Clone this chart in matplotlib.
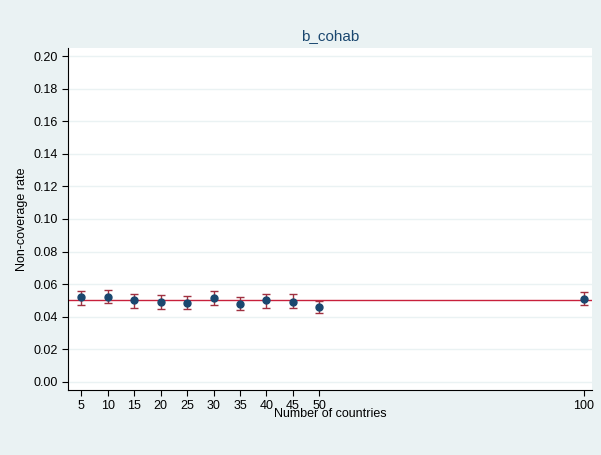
import matplotlib.pyplot as plt

plt.rcParams['font.family'] = ['Liberation Sans', 'DejaVu Sans']

countries = [5, 10, 15, 20, 25, 30, 35, 40, 45, 50, 100]
rate = [0.0518, 0.0522, 0.0500, 0.0490, 0.0487, 0.0513, 0.0480, 0.0500, 0.0493, 0.0460, 0.0510]
lower = [0.0475, 0.0485, 0.0455, 0.0445, 0.0450, 0.0470, 0.0440, 0.0455, 0.0455, 0.0425, 0.0470]
upper = [0.0560, 0.0565, 0.0540, 0.0532, 0.0530, 0.0558, 0.0522, 0.0540, 0.0540, 0.0495, 0.0550]
yticks = [0.00, 0.02, 0.04, 0.06, 0.08, 0.10, 0.12, 0.14, 0.16, 0.18, 0.20]

bg = "#eaf2f3"
fig = plt.figure(figsize=(6.01, 4.55), dpi=100, facecolor=bg)
ax = fig.add_axes([68/601, 1 - 390/455, 524/601, 342/455])
ax.set_facecolor("white")

# error bars and points
err = [[r - l for r, l in zip(rate, lower)], [u - r for r, u in zip(rate, upper)]]
ax.axhline(0.05, color="#c8203c", lw=1, zorder=1)
ax.errorbar(countries, rate, yerr=err, fmt="none", ecolor="#a03040", elinewidth=1, capsize=3, zorder=2)
ax.plot(countries, rate, "o", color="#1a476f", ms=5, zorder=3)

ax.set_xlim(2.5, 101.5)
ax.set_ylim(-0.005, 0.205)
ax.set_xticks(countries)
ax.set_yticks(yticks)
ax.set_yticklabels(["%.2f" % v for v in yticks])
ax.tick_params(labelsize=9, colors="black", length=4)
ax.grid(axis="y", color="#eaf2f3", lw=1)
ax.set_axisbelow(True)
for s in ["top", "right"]:
    ax.spines[s].set_visible(False)
ax.set_xlabel("Number of countries", fontsize=9, labelpad=-3)
ax.set_ylabel("Non-coverage rate", fontsize=9)
fig.text(0.5 + 30/601, 1 - 36/455, "b_cohab", ha="center", va="center", fontsize=11, color="#1a476f")

fig.savefig("out.png", dpi=100, facecolor=bg)
